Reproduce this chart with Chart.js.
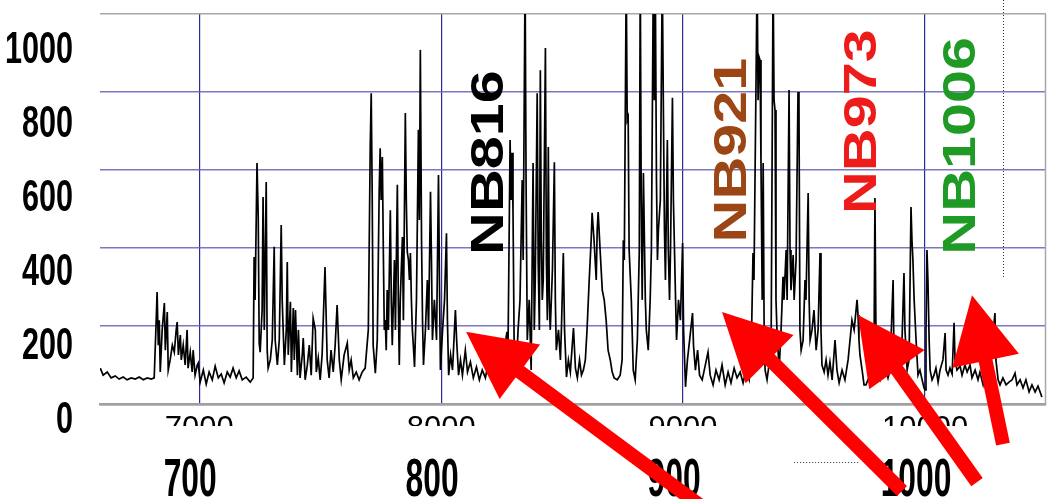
<!DOCTYPE html>
<html>
<head>
<meta charset="utf-8">
<title>OH airglow spectrum with NB filters</title>
<script src="https://cdn.jsdelivr.net/npm/chart.js@4.4.1/dist/chart.umd.min.js"></script>
<style>
  html, body { margin: 0; padding: 0; background: #ffffff; }
  #wrap { width: 1049px; height: 499px; position: relative; }
  canvas { display: block; }
</style>
</head>
<body>
<div id="wrap"><canvas id="spec" width="1049" height="499"></canvas></div>
<script>
// Night-sky spectrum: [wavelength (nm), intensity] pairs, split into bands.
const continuumBlue = [[659.1,92],[660.3,74],[662.0,82],[663.6,67],[665.3,72],[666.9,64],[668.6,69],[670.2,62],[671.9,67],[673.6,64],[675.2,69],[676.9,62],[678.5,67],[680.2,64],[681.4,67]];
const band690 = [[682.2,210],[682.6,287],[683.1,151],[683.5,215],[683.9,82],[684.7,190],[685.6,259],[686.0,138],[686.8,236],[687.2,87],[688.0,113],[688.9,151],[689.7,133],[690.5,190],[690.9,210],[691.4,126],[692.2,177],[692.6,113],[693.4,151],[694.2,100],[695.0,190],[695.4,92],[696.3,133],[697.1,82],[697.5,138],[698.3,74],[699.2,100],[699.6,105],[700.4,56]];
const continuum710 = [[701.7,87],[702.9,51],[704.1,82],[705.4,62],[706.6,97],[707.9,67],[709.1,77],[710.3,54],[711.6,82],[712.8,69],[714.0,92],[715.3,67],[716.5,85],[717.8,62],[719.4,69],[721.1,56],[722.3,67]];
const band740 = [[722.7,377],[723.1,267],[723.9,618],[724.4,479],[724.8,156],[725.2,133],[726.0,241],[726.4,531],[726.9,190],[727.7,569],[728.1,138],[728.5,92],[729.4,113],[730.2,164],[731.0,403],[731.4,164],[732.3,100],[733.1,164],[733.9,459],[734.3,267],[735.2,100],[736.0,190],[736.4,364],[736.8,126],[737.7,262],[738.1,82],[738.9,246],[739.3,113],[739.8,241],[740.6,74],[741.0,190],[741.7,67],[742.6,126],[743.0,169],[743.8,62],[744.7,100],[745.5,151],[746.3,74],[747.1,220],[748.0,190],[748.4,82],[749.2,118],[750.0,62],[750.8,126],[752.0,351],[752.9,113],[753.7,67],[754.5,138],[755.4,82],[756.2,151],[757.0,254],[757.9,113],[758.7,62],[759.9,126],[761.2,156],[762.0,87],[762.8,113],[763.7,67],[764.9,82],[766.1,62],[767.4,82],[768.6,92]];
const band790 = [[769.9,190],[770.7,664],[771.1,797],[771.5,541],[771.9,151],[772.8,79],[773.6,164],[774.4,549],[774.8,656],[775.2,523],[775.7,633],[776.1,395],[776.5,190],[776.9,215],[777.3,138],[777.7,292],[778.2,190],[779.0,497],[779.4,267],[779.8,151],[780.7,369],[781.1,190],[781.9,562],[782.3,267],[782.7,100],[783.1,267],[784.0,428],[784.4,215],[785.2,746],[785.6,523],[786.0,390],[786.5,369],[786.9,318],[787.3,387],[787.7,267],[788.1,190],[788.5,151],[789.0,95],[789.8,267],[790.6,703],[791.0,472],[791.4,908],[791.9,420],[792.3,215],[792.7,100],[793.5,190],[794.3,318],[794.8,190],[795.6,544],[796.0,369],[796.4,164],[797.2,267],[798.1,164],[798.9,587],[799.3,318],[799.7,87],[800.6,190],[801.4,267],[802.2,438],[802.6,215],[803.1,74],[803.9,126],[804.7,87],[805.9,241],[806.4,164],[807.2,74],[808.0,113],[808.8,74],[810.0,138],[810.9,82],[812.1,108],[813.3,67],[814.6,95],[815.8,62],[817.0,87],[818.3,67],[819.5,108],[820.8,74],[822.0,97],[823.2,82],[824.5,113],[825.7,87]];
const band840 = [[826.4,151],[827.2,185],[827.6,113],[828.5,677],[828.9,523],[829.3,644],[829.7,497],[830.2,138],[831.0,82],[831.8,190],[832.6,267],[833.5,574],[833.9,369],[834.7,1100],[835.1,574],[835.6,164],[836.4,267],[837.2,87],[838.0,618],[838.5,190],[838.9,318],[839.7,797],[840.1,369],[840.6,190],[841.0,856],[841.4,420],[841.8,267],[842.2,318],[843.1,913],[843.5,369],[843.9,215],[844.3,659],[844.7,267],[845.1,190],[846.0,344],[846.8,620],[847.2,267],[847.6,138],[848.5,190],[849.3,113],[849.7,190],[850.5,387],[851.0,190],[851.8,69],[852.6,113],[853.4,82],[854.7,195],[855.5,92],[856.3,67],[857.2,113],[858.0,74],[858.8,87],[859.6,113]];
const band865 = [[860.3,190],[861.2,318],[862.0,420],[862.4,490],[863.2,420],[864.1,318],[864.5,446],[864.9,492],[865.7,395],[866.6,292],[867.4,267],[868.2,215],[869.0,138],[869.9,113],[870.7,82],[871.5,67],[872.8,62],[874.0,74],[874.8,113]];
const band885 = [[875.3,420],[875.7,369],[876.5,1100],[876.9,728],[877.3,736],[877.7,395],[878.6,267],[879.4,87],[880.2,62],[881.1,164],[881.9,395],[882.3,1100],[882.7,523],[883.1,267],[883.6,592],[884.4,267],[884.8,190],[885.6,138],[886.4,267],[886.9,395],[887.7,1100],[888.1,779],[888.5,1100],[889.0,574],[889.4,369],[889.8,446],[890.6,523],[891.4,1100],[891.9,728],[892.3,446],[892.7,318],[893.5,677],[893.9,395],[894.4,267],[894.8,395],[895.6,785],[896.0,523],[896.9,267],[897.3,164],[898.1,267],[898.9,215],[899.8,413],[900.2,190],[901.0,44],[901.8,113],[902.7,164],[903.9,233],[904.3,151],[905.1,87],[906.0,138],[906.8,74]];
const continuum915 = [[907.9,62],[909.1,97],[910.3,133],[911.2,74],[912.4,49],[913.6,87],[914.9,62],[916.1,100],[917.4,49],[918.6,82],[919.8,54],[921.1,92],[922.3,67],[923.6,82],[924.8,54],[926.0,87],[927.3,62],[928.1,113]];
const band940 = [[928.9,387],[929.3,318],[930.6,1100],[931.0,779],[931.4,890],[931.8,882],[932.2,618],[932.7,267],[933.1,618],[933.5,190],[933.9,87],[934.7,62],[935.5,100],[936.4,164],[937.2,1100],[937.6,779],[938.0,754],[938.4,267],[938.8,190],[939.7,87],[940.5,190],[941.3,326],[941.7,267],[942.6,395],[943.0,267],[943.8,805],[944.2,395],[944.6,292],[945.5,382],[945.9,267],[946.7,369],[947.5,800],[947.9,764],[948.3,190],[948.8,138],[949.6,164],[950.4,318],[950.8,267],[951.7,541],[952.1,267],[952.5,164],[953.3,190],[954.1,241],[955.0,138],[955.8,190],[956.6,387],[957.0,190],[957.4,100],[958.3,82],[959.1,113],[959.9,74],[960.7,108],[961.6,62]];
const band1000 = [[962.8,164],[963.6,87],[964.5,54],[965.7,87],[966.9,62],[968.2,113],[969.0,164],[969.8,215],[970.7,190],[971.1,215],[971.9,267],[972.3,228],[972.7,164],[973.1,126],[974.0,87],[974.8,49],[975.6,49],[976.4,62],[977.3,74],[978.1,87],[978.9,113],[979.3,528],[979.8,113],[980.6,74],[981.4,62],[982.2,87],[983.1,74],[983.9,87],[984.7,67],[985.5,87],[986.8,318],[987.2,113],[988.0,74],[988.8,100],[989.7,113],[990.5,164],[991.3,336],[991.7,190],[992.6,87],[993.4,113],[994.2,505],[994.6,420],[995.0,369],[995.5,267],[996.3,164],[997.1,74],[997.9,87],[998.8,62],[999.6,41],[1000.0,36],[1000.4,190],[1000.8,395],[1001.2,318],[1001.7,164],[1002.1,87],[1002.9,62],[1003.7,74],[1004.5,92],[1005.4,56],[1006.2,87],[1007.4,113],[1008.3,182],[1008.7,87],[1009.5,74],[1010.3,92],[1011.2,77],[1012.0,208],[1012.4,113],[1013.2,87],[1014.5,97],[1015.3,74],[1016.5,100],[1017.4,82],[1018.6,100],[1019.4,67],[1020.7,87],[1021.9,62],[1022.7,82],[1024.0,49],[1024.8,74],[1025.6,100],[1026.9,87],[1027.7,151],[1028.9,233],[1029.3,113],[1030.2,62],[1031.0,49],[1032.2,67],[1033.5,49],[1034.7,56],[1036.0,62],[1037.2,79],[1038.0,49],[1039.3,62],[1040.5,41],[1041.7,62],[1043.0,31],[1044.2,49],[1045.5,31],[1046.7,46],[1048.3,18]];

// Axis ticks
const yTicks = [0, 200, 400, 600, 800, 1000];
const xTicksNm = [700, 800, 900, 1000];
const xTicksAngstrom = ['7000', '8000', '9000', '10000'];

// Narrow-band filters and where each arrow points (nm, intensity)
const filterNames = ['NB816', 'NB921', 'NB973', 'NB1006'];
const filterArrowTips = [[810.3, 185], [916.1, 236], [972.3, 228], [1019.4, 279]];

// ---- drawing setup ----
const spectrum = [].concat(continuumBlue, band690, continuum710, band740, band790,
  band840, band865, band885, continuum915, band940, band1000)
  .map(p => ({ x: p[0], y: p[1] }));

const style = {
  filterColors: ['#000000', '#9c4616', '#ee1b1b', '#1f9a24'],
  labelCenters: [[818.6, 619], [919.0, 651], [973.1, 724], [1013.9, 662]],
  arrowTails: [[240, 178], [180, 179], [119, 167], [31, 149]],
  font: '"Liberation Sans", Arial, sans-serif'
};

function stretchedText(ctx, text, x, y, sx) {
  ctx.save();
  ctx.translate(x, y);
  ctx.scale(sx, 1);
  ctx.fillText(text, 0, 0);
  ctx.restore();
}

function drawArrow(ctx, tx, ty, ex, ey) {
  const dx = ex - tx, dy = ey - ty;
  const len = Math.hypot(dx, dy);
  const ux = dx / len, uy = dy / len;
  const headLen = 67, headHalf = 34, shaft = 14;
  const bx = tx + ux * headLen, by = ty + uy * headLen;
  ctx.save();
  ctx.fillStyle = '#ff0000';
  ctx.strokeStyle = '#ff0000';
  ctx.lineWidth = shaft;
  ctx.lineCap = 'butt';
  ctx.beginPath();
  ctx.moveTo(ex, ey);
  ctx.lineTo(bx - ux * 2, by - uy * 2);
  ctx.stroke();
  ctx.beginPath();
  ctx.moveTo(tx, ty);
  ctx.lineTo(bx - uy * headHalf, by + ux * headHalf);
  ctx.lineTo(bx + uy * headHalf, by - ux * headHalf);
  ctx.closePath();
  ctx.fill();
  ctx.restore();
}

const overlay = {
  id: 'overlay',
  afterDraw(chart) {
    const ctx = chart.ctx;
    const xs = chart.scales.x, ys = chart.scales.y;
    const area = chart.chartArea;

    ctx.save();
    // right frame line
    ctx.strokeStyle = '#a8a8a8';
    ctx.lineWidth = 1.5;
    ctx.beginPath();
    ctx.moveTo(area.right - 0.5, area.top);
    ctx.lineTo(area.right - 0.5, area.bottom);
    ctx.stroke();

    // dotted guide lines
    ctx.strokeStyle = '#333333';
    ctx.lineWidth = 1;
    ctx.setLineDash([1, 2]);
    const gx = Math.round(xs.getPixelForValue(1032.2)) + 0.5;
    ctx.beginPath();
    ctx.moveTo(gx, 0);
    ctx.lineTo(gx, ys.getPixelForValue(323));
    ctx.stroke();
    const gy = Math.round(area.bottom + 58) + 0.5;
    ctx.beginPath();
    ctx.moveTo(xs.getPixelForValue(945.9), gy);
    ctx.lineTo(xs.getPixelForValue(972.8), gy);
    ctx.stroke();
    ctx.setLineDash([]);

    // y tick labels
    ctx.fillStyle = '#000000';
    ctx.textAlign = 'right';
    ctx.textBaseline = 'alphabetic';
    ctx.font = 'bold 45px ' + style.font;
    yTicks.forEach(v => {
      const py = area.bottom + 29 - (area.bottom - ys.getPixelForValue(v)) * 0.949;
      stretchedText(ctx, String(v), 73, py, 0.68);
    });

    // small Angstrom labels, cut by the panel edge
    ctx.save();
    ctx.beginPath();
    ctx.rect(0, area.bottom + 2, chart.width, 20);
    ctx.clip();
    ctx.textAlign = 'center';
    ctx.font = '31px ' + style.font;
    xTicksNm.forEach((v, i) => {
      ctx.fillText(xTicksAngstrom[i], xs.getPixelForValue(v), area.bottom + 34);
    });
    ctx.restore();

    // large nm labels
    ctx.textAlign = 'center';
    ctx.font = 'bold 53px ' + style.font;
    xTicksNm.forEach(v => {
      stretchedText(ctx, String(v), xs.getPixelForValue(v) - 9, area.bottom + 92, 0.6);
    });

    // filter names, rotated
    const fs = 46;
    ctx.font = 'bold ' + fs + 'px ' + style.font;
    ctx.textAlign = 'center';
    filterNames.forEach((name, i) => {
      const c = style.labelCenters[i];
      ctx.save();
      ctx.translate(xs.getPixelForValue(c[0]), ys.getPixelForValue(c[1]));
      ctx.rotate(-Math.PI / 2);
      ctx.scale(1.29, 1);
      ctx.fillStyle = style.filterColors[i];
      ctx.fillText(name, 0, fs * 0.716 / 2);
      ctx.restore();
    });

    // arrows pointing at each filter band
    filterArrowTips.forEach((t, i) => {
      const tx = xs.getPixelForValue(t[0]);
      const ty = ys.getPixelForValue(t[1]);
      const off = style.arrowTails[i];
      drawArrow(ctx, tx, ty, tx + off[0], ty + off[1]);
    });
    ctx.restore();
  }
};

new Chart(document.getElementById('spec'), {
  type: 'line',
  data: {
    datasets: [{
      data: spectrum,
      borderColor: '#000000',
      borderWidth: 1.7,
      pointRadius: 0,
      tension: 0,
      fill: false
    }]
  },
  options: {
    responsive: false,
    animation: false,
    events: [],
    layout: { padding: { left: 100, right: 3, top: 14, bottom: 95 } },
    plugins: { legend: { display: false }, tooltip: { enabled: false } },
    scales: {
      x: {
        type: 'linear',
        min: 659,
        max: 1050,
        afterBuildTicks: s => { s.ticks = xTicksNm.map(v => ({ value: v })); },
        afterFit: s => { s.height = 0; },
        ticks: { display: false },
        grid: { color: '#2c2c90', lineWidth: 1.2, drawTicks: false },
        border: { display: true, color: '#a0a0a0', width: 2.5 }
      },
      y: {
        min: 0,
        max: 1000,
        afterBuildTicks: s => { s.ticks = yTicks.map(v => ({ value: v })); },
        afterFit: s => { s.width = 0; },
        ticks: { display: false },
        grid: {
          drawTicks: false,
          color: c => (c.tick && (c.tick.value === 0 || c.tick.value === 1000)) ? '#a8a8a8' : 'rgba(96,96,184,0.85)',
          lineWidth: c => (c.tick && c.tick.value === 0) ? 2.5 : 1.6
        },
        border: { display: false }
      }
    }
  },
  plugins: [overlay]
});
</script>
</body>
</html>
